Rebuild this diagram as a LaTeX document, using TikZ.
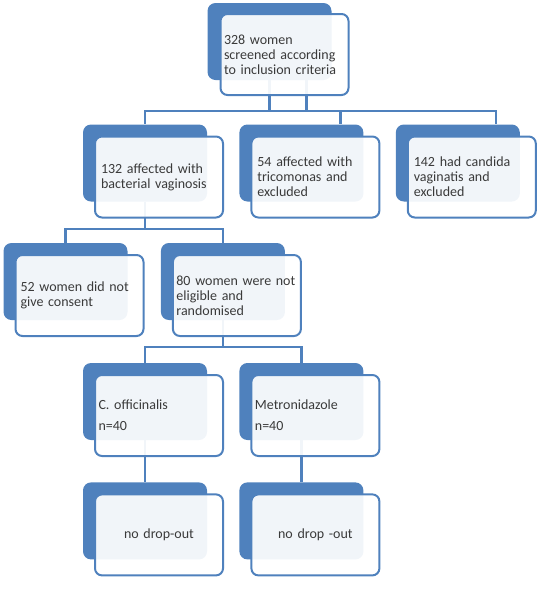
\documentclass[tikz,border=0pt]{standalone}
\usepackage{fontspec}
\setmainfont{Carlito}
\usepackage{xcolor}
\usetikzlibrary{positioning}
\definecolor{bleuSA}{HTML}{4F81BD}
\definecolor{texteSA}{HTML}{3A3A3A}

\tikzset{
	fond/.style={rectangle, rounded corners=8pt, fill=bleuSA, minimum width=124pt, minimum height=77pt, inner sep=0pt},
	carte/.style={rectangle, rounded corners=7pt, draw=bleuSA, line width=2pt, fill=white, fill opacity=0.92, text opacity=1, minimum width=128pt, minimum height=81pt, text width=121pt, inner xsep=3.5pt, align=left, font=\fontsize{14}{15}\selectfont, text=texteSA},
	lien/.style={draw=bleuSA, line width=2.2pt}
}

\begin{document}
\begin{tikzpicture}[x=1pt, y=1pt]
		\useasboundingbox (0,0) rectangle (539,-590);
		
		% --- Boîtes bleues de FOND ---
		\node[fond] (depistage_fond) at (269.5,-41.5) {};
		\node[fond] (bv_fond) at (145,-163) {};
		\node[fond, right=32pt of bv_fond] (trico_fond) {};
		\node[fond, right=32pt of trico_fond] (candida_fond) {};
		\node[fond] (refus_fond) at (65.5,-281.5) {};
		\node[fond, right=33pt of refus_fond] (random_fond) {};
		\node[fond] (calendula_fond) at (145,-401.5) {};
		\node[fond, right=32pt of calendula_fond] (metro_fond) {};
		\node[fond, below=42pt of calendula_fond] (dropc_fond) {};
		\node[fond, below=42pt of metro_fond] (dropm_fond) {};
		
		% --- Liaisons (sous les cartes) ---
		\draw[lien] (depistage_fond.south) -- ++(0,-31) -| (bv_fond.north);
		\draw[lien] (depistage_fond.south) -- ++(0,-31) -| ([xshift=39pt]trico_fond.north);
		\draw[lien] ([xshift=37pt]depistage_fond.south) -- ++(0,-31) -| ([xshift=38pt]candida_fond.north);
		\foreach \i in {refus_fond, random_fond} {
			\draw[lien] (bv_fond.south) -- ++(0,-27) -| (\i.north);
		}
		\foreach \i in {calendula_fond, metro_fond} {
			\draw[lien] (random_fond.south) -- ++(0,-27) -| (\i.north);
		}
		\draw[lien] (calendula_fond.south) -- (dropc_fond.north);
		\draw[lien] (metro_fond.south) -- (dropm_fond.north);
		
		% --- Cartes de DEVANT ---
		\node[carte] (depistage) at ([shift={(15,-13)}]depistage_fond.center) {328 women\\ screened according\\ to  inclusion criteria};
		\node[carte, inner xsep=6pt, text width=116pt] (bv) at ([shift={(14,-14)}]bv_fond.center) {132 affected with\\ bacterial vaginosis};
		\node[carte, inner xsep=6pt, text width=116pt] (trico) at ([shift={(14,-14)}]trico_fond.center) {54 affected with\\ tricomonas and\\ excluded};
		\node[carte, inner xsep=6pt, text width=116pt] (candida) at ([shift={(14,-14)}]candida_fond.center) {142 had candida\\ vaginatis and\\ excluded};
		\node[carte, inner xsep=5pt, text width=118pt] (refus) at ([shift={(14,-14)}]refus_fond.center) {52 women did not\\ give consent};
		\node[carte] (random) at ([shift={(14,-14)}]random_fond.center) {80 women were not\\ eligible and\\ randomised};
		\node[carte] (calendula) at ([shift={(14,-14)}]calendula_fond.center) {C. officinalis\\[6pt] n=40};
		\node[carte] (metro) at ([shift={(14,-14)}]metro_fond.center) {Metronidazole\\[6pt] n=40};
		\node[carte, align=center] (dropc) at ([shift={(14,-14)}]dropc_fond.center) {no drop-out};
		\node[carte, align=center] (dropm) at ([shift={(14,-14)}]dropm_fond.center) {no drop -out};
		
	\end{tikzpicture}
\end{document}
